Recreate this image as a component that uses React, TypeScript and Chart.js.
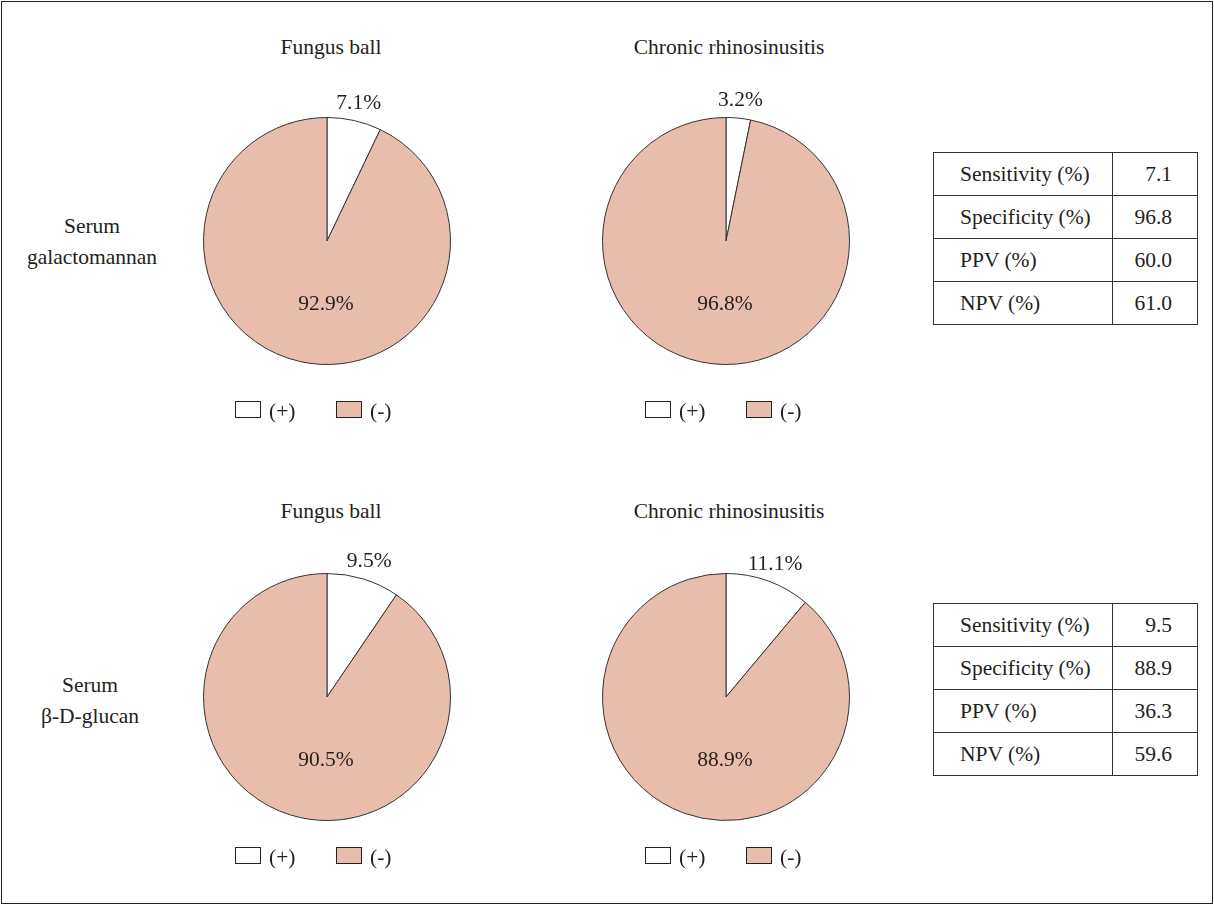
import React, { useEffect, useRef } from "react";
import { Chart, registerables } from "chart.js";

Chart.register(...registerables);

// ---- Data ----
const sliceLabels = ["(+)", "(-)"];
const sliceColors = ["#FFFFFF", "#E8BDAC"];
const chartTitles = ["Fungus ball", "Chronic rhinosinusitis"];
const rowLabels = [
  ["Serum", "galactomannan"],
  ["Serum", "β-D-glucan"],
];
const galactomannanFungusBall = [7.1, 92.9];
const galactomannanCRS = [3.2, 96.8];
const glucanFungusBall = [9.5, 90.5];
const glucanCRS = [11.1, 88.9];
const metricLabels = ["Sensitivity (%)", "Specificity (%)", "PPV (%)", "NPV (%)"];
const galactomannanMetrics = ["7.1", "96.8", "60.0", "61.0"];
const glucanMetrics = ["9.5", "88.9", "36.3", "59.6"];

const FONT = '"Liberation Serif", "DejaVu Serif", serif';
const FS = 21.5;
const TEXT = "#231F20";

const labelPlugin = {
  id: "sliceLabels",
  afterDatasetsDraw(chart: any) {
    const ctx = chart.ctx;
    const meta = chart.getDatasetMeta(0);
    const data = chart.data.datasets[0].data as number[];
    ctx.save();
    ctx.font = `${FS}px ${FONT}`;
    ctx.fillStyle = TEXT;
    ctx.textAlign = "center";
    ctx.textBaseline = "middle";
    meta.data.forEach((arc: any, i: number) => {
      const p = arc.getProps(["x", "y", "startAngle", "endAngle", "outerRadius"], true);
      const txt = data[i].toFixed(1) + "%";
      if (i === 0) {
        const mid = (p.startAngle + p.endAngle) / 2;
        const d = p.outerRadius + 20;
        ctx.fillText(txt, p.x + Math.cos(mid) * d, p.y + Math.sin(mid) * d + 2);
      } else {
        ctx.fillText(txt, p.x - 1, p.y + p.outerRadius * 0.5 + 2);
      }
    });
    ctx.restore();
  },
};

const CANVAS = 360;
const PIE_SIZE = 248;

function PieChart({ values, cx, cy }: { values: number[]; cx: number; cy: number }) {
  const ref = useRef<HTMLCanvasElement>(null);
  useEffect(() => {
    if (!ref.current) return;
    const pad = (CANVAS - PIE_SIZE) / 2;
    const chart = new Chart(ref.current, {
      type: "pie",
      data: {
        labels: sliceLabels,
        datasets: [
          {
            data: values,
            backgroundColor: sliceColors,
            borderColor: "#333333",
            borderWidth: 1,
            hoverOffset: 0,
          },
        ],
      },
      options: {
        responsive: false,
        animation: false,
        events: [],
        layout: { padding: pad },
        plugins: { legend: { display: false }, tooltip: { enabled: false }, title: { display: false } },
      },
      plugins: [labelPlugin],
    });
    return () => chart.destroy();
  }, [values]);
  return (
    <canvas
      ref={ref}
      width={CANVAS}
      height={CANVAS}
      style={{ position: "absolute", left: cx - CANVAS / 2, top: cy - CANVAS / 2, width: CANVAS, height: CANVAS }}
    />
  );
}

const textStyle: React.CSSProperties = {
  fontFamily: FONT,
  fontSize: FS,
  color: TEXT,
};

function Legend({ x1, x2, cy }: { x1: number; x2: number; cy: number }) {
  const xs = [x1, x2];
  return (
    <>
      {sliceLabels.map((l, i) => (
        <React.Fragment key={l}>
          <div
            style={{
              position: "absolute",
              left: xs[i],
              top: cy - 9,
              width: 26,
              height: 17,
              boxSizing: "border-box",
              border: "1px solid #222",
              background: sliceColors[i],
            }}
          />
          <div
            style={{
              ...textStyle,
              position: "absolute",
              left: xs[i] + 34,
              top: cy - 13,
              height: 28,
              lineHeight: "28px",
              whiteSpace: "nowrap",
            }}
          >
            {l}
          </div>
        </React.Fragment>
      ))}
    </>
  );
}

function Title({ text, cx, cy }: { text: string; cx: number; cy: number }) {
  return (
    <div
      style={{
        ...textStyle,
        position: "absolute",
        left: cx - 200,
        width: 400,
        top: cy - 14,
        height: 28,
        lineHeight: "28px",
        textAlign: "center",
      }}
    >
      {text}
    </div>
  );
}

function RowLabel({ lines, cx, cy }: { lines: string[]; cx: number; cy: number }) {
  return (
    <div
      style={{
        ...textStyle,
        position: "absolute",
        left: cx - 100,
        width: 200,
        top: cy - 31,
        lineHeight: "31px",
        textAlign: "center",
      }}
    >
      {lines.map((l) => (
        <div key={l}>{l}</div>
      ))}
    </div>
  );
}

function MetricTable({ values, top }: { values: string[]; top: number }) {
  const cell: React.CSSProperties = {
    ...textStyle,
    border: "1px solid #333",
    height: 42,
    padding: 0,
    boxSizing: "border-box",
  };
  return (
    <table
      style={{
        position: "absolute",
        left: 933,
        top,
        borderCollapse: "collapse",
        width: 264,
        tableLayout: "fixed",
      }}
    >
      <colgroup>
        <col style={{ width: 179 }} />
        <col style={{ width: 85 }} />
      </colgroup>
      <tbody>
        {metricLabels.map((m, i) => (
          <tr key={m} style={{ height: 43 }}>
            <td style={{ ...cell, paddingLeft: 26, textAlign: "left" }}>{m}</td>
            <td style={{ ...cell, paddingRight: 25, textAlign: "right" }}>{values[i]}</td>
          </tr>
        ))}
      </tbody>
    </table>
  );
}

export default function App() {
  return (
    <div style={{ position: "absolute", left: 0, top: 0, width: 1214, height: 905, background: "#fff", overflow: "hidden" }}>
      <div
        style={{
          position: "absolute",
          left: 1,
          top: 1,
          width: 1212,
          height: 903,
          boxSizing: "border-box",
          border: "1.5px solid #222",
        }}
      />
      <Title text={chartTitles[0]} cx={331} cy={47} />
      <Title text={chartTitles[1]} cx={729} cy={47} />
      <Title text={chartTitles[0]} cx={331} cy={511} />
      <Title text={chartTitles[1]} cx={729} cy={511} />

      <RowLabel lines={rowLabels[0]} cx={92} cy={242} />
      <RowLabel lines={rowLabels[1]} cx={90} cy={701} />

      <PieChart values={galactomannanFungusBall} cx={327} cy={241} />
      <PieChart values={galactomannanCRS} cx={726} cy={241} />
      <PieChart values={glucanFungusBall} cx={327} cy={697} />
      <PieChart values={glucanCRS} cx={726} cy={697} />

      <Legend x1={235} x2={336} cy={410} />
      <Legend x1={645} x2={746} cy={410} />
      <Legend x1={235} x2={336} cy={856} />
      <Legend x1={645} x2={746} cy={856} />

      <MetricTable values={galactomannanMetrics} top={152} />
      <MetricTable values={glucanMetrics} top={603} />
    </div>
  );
}
